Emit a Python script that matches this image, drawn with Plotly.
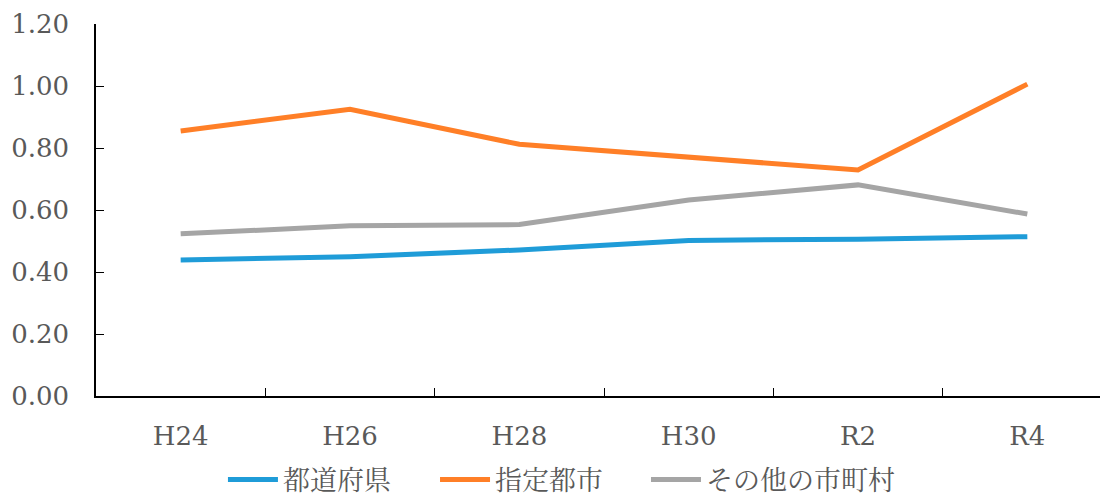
import plotly.graph_objects as go

categories = ["H24", "H26", "H28", "H30", "R2", "R4"]
prefectures = [0.439, 0.449, 0.471, 0.502, 0.506, 0.514]
designated_cities = [0.855, 0.925, 0.812, 0.771, 0.729, 1.006]
other_municipalities = [0.523, 0.549, 0.553, 0.632, 0.681, 0.587]
y_ticks = [0.0, 0.2, 0.4, 0.6, 0.8, 1.0, 1.2]

series = [
    ("都道府県", prefectures, "#1f9cd8", "legend"),
    ("指定都市", designated_cities, "#ff7f27", "legend2"),
    ("その他の市町村", other_municipalities, "#a5a5a5", "legend3"),
]

fig = go.Figure()
for name, vals, color, leg in series:
    fig.add_trace(go.Scatter(
        x=categories, y=vals, name=name, mode="lines",
        line=dict(color=color, width=5), legend=leg,
    ))

tick_font = dict(family="DejaVu Serif", size=26, color="#595959")
legend_font = dict(family="Noto Serif CJK JP, Noto Sans CJK JP", size=27, color="#595959")


def legend_at(xpos):
    return dict(
        orientation="h", xref="container", yref="container",
        x=xpos, xanchor="left", y=0.058, yanchor="middle",
        font=legend_font, itemwidth=50, bgcolor="rgba(0,0,0,0)",
    )


fig.update_layout(
    width=1108, height=501,
    margin=dict(l=88, r=4, t=16, b=113, autoexpand=False),
    plot_bgcolor="white", paper_bgcolor="white",
    showlegend=True,
    legend=legend_at(0.194),
    legend2=legend_at(0.3854),
    legend3=legend_at(0.5758),
    xaxis=dict(
        type="category", range=[-0.5, 5.5], automargin=False,
        showline=True, linecolor="#000000", linewidth=1.5,
        ticks="inside", tickson="boundaries", ticklen=8, tickcolor="#000000", tickwidth=1,
        showgrid=False, tickfont=tick_font, ticklabelstandoff=16,
    ),
    yaxis=dict(
        range=[0, 1.2], tickvals=y_ticks, tickformat=".2f", automargin=False,
        showline=True, linecolor="#000000", linewidth=1.5,
        ticks="inside", ticklen=8, tickcolor="#000000", tickwidth=1,
        showgrid=False, zeroline=False, tickfont=tick_font, ticklabelstandoff=20,
    ),
)

fig.write_html("out.html")
